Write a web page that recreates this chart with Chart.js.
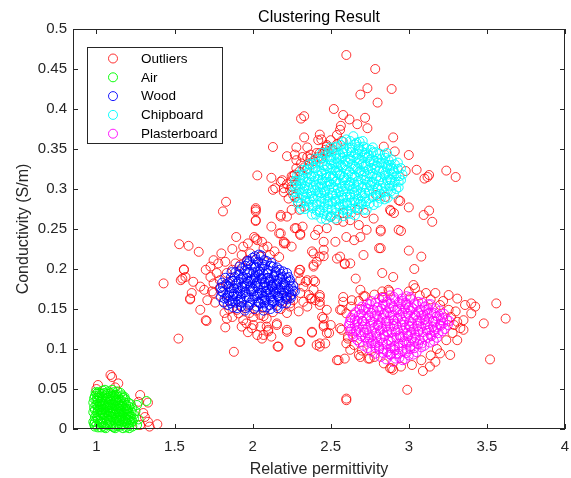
<!DOCTYPE html>
<html>
<head>
<meta charset="utf-8">
<script src="https://cdn.jsdelivr.net/npm/chart.js@4/dist/chart.umd.min.js"></script>
<style>
html, body { margin: 0; padding: 0; background: #fff; }
#caixa { width: 571px; height: 478px; }
</style>
</head>
<body>
<div id="caixa"><canvas id="grafico" width="571" height="478"></canvas></div>
<script>
// nomes e cores das series (mesma ordem da legenda)
var nomes = ['Outliers', 'Air', 'Wood', 'Chipboard', 'Plasterboard'];
var cores = ['rgba(255,0,0,0.8)', 'rgba(0,255,0,0.95)', 'rgba(0,0,255,0.9)', 'rgba(0,255,255,0.95)', 'rgba(255,0,255,0.9)'];

var xTicks = [1, 1.5, 2, 2.5, 3, 3.5, 4];
var xTickLabels = ['1', '1.5', '2', '2.5', '3', '3.5', '4'];
var yTicks = [0, 0.05, 0.1, 0.15, 0.2, 0.25, 0.3, 0.35, 0.4, 0.45, 0.5];
var yTickLabels = ['0', '0.05', '0.1', '0.15', '0.2', '0.25', '0.3', '0.35', '0.4', '0.45', '0.5'];

// [permissividade, condutividade]
var outliers = [
  [1.09,0.0675],[1.10,0.065],[1.01,0.055],[1.00,0.05],[1.14,0.057],[1.12,0.052],[1.28,0.0425],[1.27,0.034],[1.33,0.033],[1.30,0.02],
  [1.33,0.009],[1.28,0.005],[1.34,0.003],[1.39,0.006],[1.31,0.015],
  [1.53,0.231],[1.59,0.229],[1.655,0.2215],[1.895,0.24],[2.01,0.24],[2.03,0.236],[2.095,0.228],[2.20,0.232],[2.25,0.228],[2.305,0.244],
  [1.80,0.2195],[1.825,0.209],[1.75,0.211],[1.78,0.207],[1.73,0.203],[1.70,0.199],[1.56,0.1995],[1.54,0.186],[1.57,0.19],[1.62,0.184],
  [1.665,0.178],[1.69,0.174],[1.61,0.17],[1.60,0.162],[1.71,0.161],[1.75,0.17],[1.43,0.182],[1.665,0.149],[1.70,0.136],[1.825,0.127],
  [1.525,0.113],[1.88,0.0965],[1.87,0.14],[1.91,0.1445],[1.94,0.136],[1.96,0.132],[1.995,0.126],[1.93,0.128],[2.005,0.14],[2.05,0.1425],
  [2.09,0.138],[2.09,0.128],[2.155,0.13],[2.12,0.1155],[2.06,0.113],[2.03,0.1175],[2.165,0.103],[2.22,0.124],[2.295,0.147],[2.305,0.109],
  [2.38,0.1215],[2.41,0.105],[2.35,0.153],[2.40,0.161],[2.39,0.174],[2.39,0.186],[2.34,0.184],[2.305,0.199],[2.39,0.2195],[2.41,0.209],
  [2.26,0.161],[2.24,0.153],[1.835,0.138],[1.90,0.149],[1.93,0.153],[1.965,0.211],[1.93,0.2175],[1.985,0.2195],[2.05,0.2155],[2.11,0.2175],
  [1.92,0.205],[1.94,0.228],[1.89,0.207],[1.87,0.199],[1.835,0.195],[1.845,0.182],[1.79,0.176],[1.815,0.159],[1.79,0.186],[1.75,0.182],
  [1.73,0.19],[1.77,0.195],[1.83,0.284],[1.81,0.272],[2.02,0.274],[2.02,0.26],[2.12,0.253],[2.18,0.2655],[2.22,0.2655],[2.27,0.251],
  [2.18,0.2445],[2.20,0.234],[1.55,0.188],[1.56,0.199],[1.60,0.163],[1.705,0.135],[2.16,0.103],[2.43,0.107],[2.54,0.086],[2.39,0.205],
  [2.455,0.216],[2.54,0.213],[1.98,0.145],[2.02,0.148],[2.07,0.141],[2.13,0.146],[2.18,0.150],[2.22,0.145],[1.85,0.150],[1.82,0.145],
  [1.76,0.158],[1.74,0.172],[1.97,0.121],[2.10,0.122],[2.07,0.226],[2.14,0.222],[2.17,0.215],[1.87,0.225],[1.97,0.232],
  [2.60,0.4675],[2.785,0.45],[2.735,0.426],[2.69,0.418],[2.89,0.425],[2.80,0.408],[2.52,0.40],[2.58,0.3925],[2.62,0.387],[2.72,0.389],
  [2.31,0.388],[2.33,0.391],[2.565,0.379],[2.67,0.381],[2.735,0.376],[2.90,0.3645],[2.43,0.368],[2.33,0.3645],[2.13,0.3525],[2.22,0.341],
  [2.27,0.343],[2.35,0.352],[2.44,0.362],[2.50,0.361],[2.54,0.3675],[2.84,0.353],[2.91,0.347],[3.00,0.3425],[2.03,0.317],[2.12,0.314],
  [2.19,0.311],[2.13,0.299],[2.25,0.303],[2.27,0.29],[2.98,0.3225],[3.05,0.324],[3.12,0.315],[3.13,0.3175],[2.79,0.2925],[2.85,0.29],
  [2.945,0.285],[2.02,0.276],[2.35,0.34],[2.43,0.345],[2.475,0.353],[2.56,0.374],[2.28,0.352],[2.42,0.361],[2.475,0.355],[2.28,0.336],
  [2.32,0.34],[2.37,0.338],[2.41,0.345],[2.465,0.349],[2.26,0.316],[2.18,0.309],[2.145,0.301],[2.24,0.299],[3.10,0.313],[3.24,0.323],
  [3.30,0.315],[3.00,0.277],[2.885,0.2725],[2.905,0.27],[3.095,0.2675],[3.13,0.273],[3.15,0.259],[2.82,0.247],[2.95,0.2475],[2.82,0.226],
  [3.00,0.223],[3.08,0.2155],[3.035,0.20],
  [2.30,0.322],[2.33,0.327],[2.36,0.331],[2.39,0.335],[2.42,0.34],[2.45,0.344],[2.48,0.347],[2.51,0.35],[2.54,0.356],[2.57,0.36],
  [2.27,0.318],[2.25,0.31],[2.22,0.306],[2.35,0.325],[2.44,0.338],[2.37,0.343],[2.31,0.332],[2.28,0.326],[2.20,0.296],[2.23,0.288],
  [2.29,0.284],[2.33,0.278],
  [2.20,0.301],[2.25,0.316],[2.26,0.2925],[2.28,0.305],[2.02,0.272],[2.02,0.261],[2.18,0.2675],[2.25,0.274],[2.30,0.274],[2.28,0.251],
  [2.32,0.253],[2.305,0.2425],[2.17,0.2445],[2.02,0.238],[2.06,0.234],[2.40,0.2425],[2.42,0.249],[2.475,0.251],[2.50,0.265],[2.53,0.234],
  [2.54,0.261],[2.58,0.27],[2.58,0.259],[2.60,0.24],[2.625,0.261],[2.67,0.274],[2.68,0.255],[2.72,0.27],[2.73,0.249],[2.775,0.263],
  [2.82,0.249],[2.81,0.226],[2.71,0.2175],[2.69,0.24],[2.65,0.236],[2.88,0.274],[2.935,0.286],[2.935,0.249],[2.455,0.234],[2.455,0.224],
  [2.43,0.2155],[2.39,0.203],[2.38,0.222],[2.56,0.2155],[2.59,0.207],[2.625,0.207],[2.66,0.188],[2.83,0.195],[2.90,0.19],[2.21,0.232],
  [2.30,0.199],[2.295,0.195],[2.35,0.186],[2.40,0.184],[2.305,0.186],[2.325,0.178],[2.36,0.1675],[2.325,0.159],[2.24,0.157],[2.22,0.165],
  [2.38,0.163],[2.43,0.1675],[2.43,0.159],[2.475,0.149],[2.445,0.14],[2.455,0.13],[2.49,0.12],[2.465,0.107],[2.43,0.103],[2.38,0.1205],
  [2.30,0.109],[2.22,0.1215],[2.155,0.132],[2.10,0.124],[2.07,0.1175],[2.05,0.128],[2.005,0.13],
  [2.58,0.159],[2.635,0.161],[2.71,0.166],[2.56,0.149],[2.60,0.1445],[2.57,0.124],[2.61,0.1155],[2.60,0.107],[2.55,0.086],[2.59,0.088],
  [2.68,0.0925],[2.74,0.088],[2.83,0.165],[2.87,0.174],[2.60,0.036],[2.50,0.13],[2.69,0.174],[2.88,0.076],[2.90,0.074],[2.59,0.206],
  [3.03,0.18],[3.04,0.176],[2.83,0.172],[2.875,0.172],[2.72,0.166],[3.11,0.17],[3.17,0.17],[3.255,0.1675],[3.31,0.163],[3.20,0.155],
  [3.255,0.149],[3.36,0.155],[3.40,0.157],[3.425,0.153],[3.56,0.157],[3.62,0.138],[3.40,0.1445],[3.35,0.136],[3.31,0.134],[3.33,0.126],
  [3.35,0.124],[3.48,0.132],[3.24,0.111],[3.31,0.111],[3.265,0.0925],[3.20,0.0945],[3.17,0.084],[3.135,0.078],[3.09,0.0725],[2.89,0.076],
  [3.52,0.087],[2.99,0.049],[2.60,0.038],[2.69,0.09],[2.75,0.088],[2.58,0.165],[2.57,0.149],[2.56,0.126],[2.61,0.113],[2.625,0.099],
  [2.43,0.165],[2.37,0.163],[2.43,0.155],[2.455,0.138],[2.455,0.128],[2.475,0.12],[2.305,0.17],
  [3.27,0.140],[3.29,0.130],[3.30,0.147],[3.22,0.160],[3.14,0.162],[3.28,0.120],[3.18,0.100],[3.14,0.092],[3.08,0.086],[3.02,0.080],
  [2.95,0.078],[2.84,0.082],[2.78,0.090],[2.70,0.098],[2.65,0.105],[2.63,0.153],[2.68,0.160],[2.78,0.168],[3.00,0.172],[3.07,0.167]
];

var air = [
  [0.99,0.003],[1.01,0.011],[1.03,0.002],[1.04,0.019],[1.06,0.007],[1.07,0.026],[1.09,0.004],[1.10,0.015],[1.12,0.009],[1.13,0.022],
  [1.15,0.003],[1.16,0.013],[1.18,0.006],[1.19,0.018],[1.21,0.004],[0.98,0.021],[1.00,0.030],[1.02,0.024],[1.03,0.036],[1.05,0.031],
  [1.06,0.042],[1.08,0.034],[1.09,0.045],[1.11,0.038],[1.12,0.029],[1.14,0.033],[1.15,0.025],[1.17,0.028],[1.18,0.021],[1.20,0.012],
  [1.22,0.008],[0.99,0.041],[1.01,0.046],[1.04,0.048],[1.07,0.039],[1.10,0.049],[1.13,0.043],[1.16,0.036],[1.19,0.030],[1.21,0.019],
  [1.23,0.026],[1.24,0.013],[1.02,0.006],[1.05,0.014],[1.08,0.012],[1.11,0.002],[1.14,0.016],[1.17,0.001],[1.20,0.007],[0.98,0.009],
  [1.00,0.017],[1.03,0.028],[1.06,0.021],[1.09,0.027],[1.12,0.018],[1.15,0.010],[1.18,0.014],[1.01,0.035],[1.04,0.040],[1.07,0.044],
  [1.10,0.032],[1.13,0.037],[1.16,0.022],[1.19,0.025],[1.22,0.016],[0.99,0.015],[1.02,0.039],[1.05,0.025],[1.08,0.019],[1.11,0.023],
  [1.14,0.006],[1.17,0.009],[1.00,0.005],[1.03,0.013],[1.06,0.034],[1.09,0.010],[1.12,0.041],[1.15,0.030],[1.18,0.033],[1.21,0.028],
  [1.25,0.022],[1.26,0.030],[1.32,0.035],[0.98,0.033],[1.01,0.023],[1.04,0.008],[1.07,0.016],[1.10,0.007],[1.13,0.012],[1.16,0.005],
  [1.19,0.002],[1.23,0.003],[1.02,0.031],[1.05,0.045],[1.08,0.041],[1.11,0.046],[1.14,0.040],[1.00,0.044],[1.06,0.001],[1.12,0.001],
  [1.09,0.036],[1.03,0.020],[1.15,0.019],[1.21,0.011],[1.17,0.039],
  [0.985,0.006],[1.005,0.014],[1.025,0.009],[1.045,0.004],[1.065,0.013],[1.085,0.008],[1.105,0.003],[1.125,0.014],[1.145,0.011],[1.165,0.017],
  [1.185,0.010],[1.205,0.015],[1.225,0.012],[0.985,0.027],[1.005,0.021],[1.025,0.017],[1.045,0.025],[1.065,0.029],[1.085,0.023],[1.105,0.020],
  [1.125,0.025],[1.145,0.021],[1.165,0.031],[1.185,0.026],[1.205,0.022],[1.225,0.021],[0.985,0.038],[1.005,0.039],[1.025,0.034],[1.045,0.036],
  [1.065,0.038],[1.085,0.030],[1.105,0.041],[1.125,0.035],[1.145,0.029],[1.165,0.042],[1.185,0.037],[1.205,0.033],[0.995,0.046],[1.015,0.042],
  [1.035,0.044],[1.055,0.049],[1.075,0.047],[1.095,0.042],[1.115,0.043],[1.135,0.047],[1.155,0.045],[0.99,0.009],[1.01,0.002],[1.03,0.007],
  [1.05,0.002],[1.07,0.005],[1.09,0.016],[1.11,0.011],[1.13,0.004],[1.15,0.015],[1.17,0.012],[1.19,0.008],[1.21,0.001],[0.99,0.024],
  [1.01,0.028],[1.03,0.024],[1.05,0.019],[1.07,0.021],[1.09,0.021],[1.11,0.030],[1.13,0.028],[1.15,0.036],[1.17,0.019],[1.19,0.013],
  [1.00,0.036],[1.02,0.045],[1.04,0.032],[1.06,0.027],[1.08,0.027],[1.10,0.026],[1.12,0.034],[1.14,0.025],[1.16,0.028],[1.18,0.040],
  [1.20,0.025],[1.24,0.018],[1.22,0.031],[1.27,0.012],[1.26,0.005],[1.23,0.009]
];

var wood = [
  [1.80,0.172],[1.82,0.163],[1.83,0.181],[1.84,0.155],[1.85,0.170],[1.86,0.189],[1.87,0.160],[1.88,0.176],[1.89,0.196],[1.90,0.151],
  [1.90,0.166],[1.91,0.184],[1.92,0.172],[1.93,0.201],[1.93,0.158],[1.94,0.190],[1.95,0.178],[1.95,0.148],[1.96,0.165],[1.97,0.207],
  [1.97,0.185],[1.98,0.155],[1.98,0.196],[1.99,0.172],[2.00,0.214],[2.00,0.162],[2.01,0.188],[2.01,0.150],[2.02,0.179],[2.02,0.203],
  [2.03,0.168],[2.04,0.218],[2.04,0.193],[2.05,0.157],[2.05,0.181],[2.06,0.207],[2.06,0.170],[2.07,0.148],[2.07,0.194],[2.08,0.183],
  [2.08,0.161],[2.09,0.210],[2.10,0.174],[2.10,0.198],[2.11,0.155],[2.11,0.186],[2.12,0.166],[2.13,0.203],[2.13,0.178],[2.14,0.192],
  [2.14,0.159],[2.15,0.171],[2.16,0.185],[2.16,0.151],[2.17,0.199],[2.17,0.164],[2.18,0.177],[2.19,0.190],[2.19,0.157],[2.20,0.170],
  [2.21,0.183],[2.22,0.162],[2.22,0.195],[2.23,0.175],[2.24,0.186],[2.25,0.168],[2.26,0.179],[2.27,0.172],[1.81,0.178],[1.84,0.167],
  [1.86,0.176],[1.87,0.185],[1.89,0.158],[1.91,0.193],[1.92,0.162],[1.94,0.170],[1.95,0.198],[1.96,0.182],[1.97,0.153],[1.99,0.187],
  [1.99,0.205],[2.00,0.175],[2.01,0.166],[2.03,0.196],[2.03,0.184],[2.04,0.158],[2.05,0.200],[2.06,0.163],[2.07,0.177],[2.08,0.205],
  [2.09,0.169],[2.09,0.152],[2.10,0.189],[2.12,0.180],[2.12,0.208],[2.13,0.160],[2.15,0.197],[2.15,0.180],[2.17,0.173],[2.18,0.194],
  [2.20,0.181],[2.21,0.163],[2.23,0.190],[2.24,0.166],[2.02,0.212],[1.98,0.210],[1.93,0.178],[1.88,0.169],[1.85,0.160],[2.06,0.188],
  [2.11,0.171],[2.16,0.166],
  [1.875,0.152],[1.925,0.153],[1.955,0.151],[2.025,0.153],[2.065,0.152],[2.115,0.150],[2.155,0.154],
  [1.815,0.158],[1.86,0.157],[1.91,0.159],[1.985,0.158],[2.035,0.159],[2.075,0.157],[2.125,0.158],[2.175,0.159],[2.215,0.157],
  [1.795,0.165],[1.835,0.164],[1.875,0.166],[1.925,0.165],[1.975,0.164],[2.025,0.166],[2.075,0.165],[2.115,0.164],[2.165,0.166],[2.215,0.165],[2.245,0.164],
  [1.81,0.171],[1.865,0.172],[1.905,0.170],[1.955,0.171],[2.005,0.172],[2.045,0.170],[2.085,0.171],[2.135,0.172],[2.185,0.170],[2.235,0.171],[2.26,0.173],
  [1.795,0.177],[1.845,0.178],[1.905,0.176],[1.935,0.177],[1.985,0.178],[2.035,0.176],[2.085,0.177],[2.125,0.178],[2.165,0.176],[2.205,0.177],[2.245,0.178],
  [1.805,0.183],[1.855,0.184],[1.895,0.182],[1.945,0.183],[1.985,0.184],[2.025,0.182],[2.075,0.183],[2.115,0.184],[2.155,0.182],[2.195,0.183],[2.235,0.184],
  [1.825,0.189],[1.885,0.190],[1.925,0.188],[1.965,0.189],[2.015,0.190],[2.055,0.188],[2.095,0.189],[2.135,0.190],[2.175,0.188],[2.215,0.189],
  [1.865,0.196],[1.915,0.197],[1.965,0.195],[2.005,0.196],[2.045,0.197],[2.095,0.195],[2.145,0.196],[2.195,0.197],
  [1.915,0.203],[1.955,0.204],[2.015,0.202],[2.065,0.203],[2.115,0.204],[2.155,0.202],
  [1.965,0.210],[2.035,0.209],[2.075,0.211],[2.015,0.216],[2.055,0.217]
];

var chipboard = [
  [2.60,0.362],[2.645,0.366],[2.685,0.359],
  [2.52,0.352],[2.565,0.355],[2.62,0.351],[2.655,0.356],[2.71,0.353],[2.755,0.349],
  [2.47,0.345],[2.515,0.348],[2.56,0.343],[2.605,0.347],[2.655,0.344],[2.70,0.347],[2.745,0.342],[2.79,0.346],[2.845,0.343],
  [2.42,0.338],[2.465,0.341],[2.505,0.336],[2.555,0.339],[2.595,0.335],[2.645,0.340],[2.685,0.337],[2.735,0.339],[2.775,0.335],[2.825,0.338],[2.87,0.336],
  [2.38,0.331],[2.43,0.334],[2.475,0.329],[2.52,0.332],[2.565,0.330],[2.61,0.333],[2.66,0.328],[2.70,0.331],[2.75,0.334],[2.795,0.329],[2.84,0.332],[2.885,0.330],[2.93,0.333],
  [2.34,0.324],[2.385,0.327],[2.44,0.322],[2.48,0.326],[2.53,0.323],[2.575,0.327],[2.62,0.322],[2.67,0.325],[2.715,0.322],[2.76,0.326],[2.81,0.323],[2.86,0.327],[2.905,0.322],[2.95,0.326],
  [2.30,0.317],[2.35,0.320],[2.395,0.315],[2.445,0.319],[2.495,0.316],[2.54,0.320],[2.585,0.315],[2.635,0.318],[2.68,0.321],[2.73,0.316],[2.77,0.319],[2.82,0.315],[2.87,0.318],[2.92,0.316],
  [2.28,0.310],[2.325,0.313],[2.37,0.308],[2.42,0.312],[2.465,0.309],[2.51,0.313],[2.56,0.308],[2.60,0.311],[2.65,0.307],[2.695,0.312],[2.74,0.309],[2.79,0.313],[2.835,0.308],[2.885,0.311],[2.935,0.309],
  [2.27,0.303],[2.31,0.306],[2.36,0.301],[2.405,0.305],[2.45,0.302],[2.50,0.306],[2.545,0.301],[2.59,0.304],[2.64,0.300],[2.68,0.305],[2.73,0.302],[2.78,0.306],[2.825,0.301],[2.875,0.304],[2.92,0.300],
  [2.26,0.296],[2.30,0.299],[2.35,0.294],[2.40,0.298],[2.44,0.295],[2.49,0.299],[2.535,0.294],[2.58,0.297],[2.625,0.293],[2.67,0.298],[2.72,0.295],[2.77,0.299],[2.815,0.294],[2.865,0.297],[2.905,0.294],
  [2.27,0.289],[2.32,0.292],[2.365,0.287],[2.415,0.291],[2.46,0.288],[2.51,0.292],[2.555,0.287],[2.60,0.290],[2.65,0.286],[2.70,0.291],[2.745,0.288],[2.80,0.291],[2.845,0.287],
  [2.29,0.282],[2.34,0.285],[2.385,0.280],[2.44,0.284],[2.485,0.281],[2.53,0.285],[2.58,0.280],[2.625,0.283],[2.68,0.281],[2.725,0.284],[2.775,0.280],
  [2.31,0.275],[2.36,0.278],[2.41,0.273],[2.455,0.277],[2.505,0.274],[2.555,0.278],[2.605,0.273],[2.655,0.276],[2.71,0.274],
  [2.38,0.268],[2.43,0.271],[2.475,0.267],[2.53,0.270],[2.58,0.266],[2.63,0.269],
  [2.44,0.263],[2.50,0.265],
  [2.40,0.326],[2.50,0.340],[2.58,0.346],[2.68,0.350],[2.72,0.343],[2.62,0.338],[2.54,0.327],[2.47,0.314],[2.33,0.300],[2.38,0.291],
  [2.46,0.296],[2.57,0.292],[2.66,0.293],[2.75,0.305],[2.85,0.320],[2.90,0.325],[2.80,0.333],[2.71,0.328],[2.64,0.314],[2.56,0.318],
  [2.48,0.284],[2.59,0.282],[2.69,0.284],[2.62,0.305],[2.53,0.309],[2.44,0.307],[2.36,0.313],[2.80,0.300],[2.88,0.312],[2.96,0.318],
  [2.58,0.359],[2.625,0.360],[2.665,0.358],[2.705,0.360],
  [2.495,0.352],[2.54,0.353],[2.585,0.351],[2.635,0.352],[2.68,0.353],[2.73,0.351],[2.77,0.352],
  [2.445,0.345],[2.49,0.346],[2.535,0.344],[2.58,0.345],[2.63,0.346],[2.675,0.344],[2.72,0.345],[2.77,0.346],[2.815,0.344],[2.86,0.345],
  [2.40,0.338],[2.445,0.339],[2.49,0.337],[2.535,0.338],[2.575,0.339],[2.625,0.337],[2.665,0.338],[2.71,0.339],[2.755,0.337],[2.80,0.338],[2.85,0.339],[2.89,0.337],
  [2.36,0.331],[2.405,0.332],[2.455,0.330],[2.50,0.331],[2.545,0.332],[2.59,0.330],[2.635,0.331],[2.68,0.332],[2.725,0.330],[2.775,0.331],[2.82,0.332],[2.865,0.330],[2.91,0.331],
  [2.32,0.324],[2.365,0.325],[2.415,0.323],[2.46,0.324],[2.505,0.325],[2.55,0.323],[2.60,0.324],[2.645,0.325],[2.69,0.323],[2.74,0.324],[2.785,0.325],[2.835,0.323],[2.88,0.324],[2.93,0.325],
  [2.285,0.317],[2.325,0.318],[2.375,0.316],[2.42,0.317],[2.47,0.318],[2.515,0.316],[2.56,0.317],[2.61,0.318],[2.655,0.316],[2.705,0.317],[2.75,0.318],[2.795,0.316],[2.845,0.317],[2.895,0.318],[2.94,0.316],
  [2.27,0.310],[2.305,0.311],[2.35,0.309],[2.395,0.310],[2.445,0.311],[2.49,0.309],[2.535,0.310],[2.58,0.311],[2.625,0.309],[2.675,0.310],[2.72,0.311],[2.765,0.309],[2.81,0.310],[2.86,0.311],[2.91,0.309],[2.95,0.311],
  [2.29,0.303],[2.335,0.304],[2.385,0.302],[2.43,0.303],[2.475,0.304],[2.52,0.302],[2.57,0.303],[2.615,0.304],[2.66,0.302],[2.705,0.303],[2.755,0.304],[2.80,0.302],[2.85,0.303],[2.895,0.304],[2.935,0.302],
  [2.28,0.296],[2.325,0.297],[2.375,0.295],[2.42,0.296],[2.465,0.297],[2.51,0.295],[2.555,0.296],[2.60,0.297],[2.65,0.295],[2.695,0.296],[2.745,0.297],[2.79,0.295],[2.84,0.296],[2.885,0.297],
  [2.295,0.289],[2.34,0.290],[2.39,0.288],[2.44,0.289],[2.485,0.290],[2.53,0.288],[2.58,0.289],[2.625,0.290],[2.675,0.288],[2.72,0.289],[2.77,0.290],[2.82,0.288],[2.865,0.289],
  [2.31,0.282],[2.36,0.283],[2.41,0.281],[2.46,0.282],[2.51,0.283],[2.555,0.281],[2.605,0.282],[2.655,0.283],[2.70,0.281],[2.75,0.282],[2.80,0.283],
  [2.335,0.275],[2.385,0.276],[2.43,0.274],[2.48,0.275],[2.53,0.276],[2.58,0.274],[2.63,0.275],[2.68,0.276],[2.73,0.274],
  [2.405,0.268],[2.455,0.269],[2.505,0.267],[2.555,0.268],[2.605,0.269],[2.655,0.267],
  [2.47,0.262],[2.53,0.263]
];

var plasterboard = [
  [2.88,0.167],[2.93,0.170],[2.985,0.166],
  [2.76,0.160],[2.81,0.163],[2.86,0.159],[2.91,0.162],[2.96,0.160],[3.01,0.163],[3.06,0.159],
  [2.70,0.153],[2.75,0.156],[2.80,0.152],[2.85,0.155],[2.90,0.153],[2.95,0.156],[3.00,0.152],[3.05,0.155],[3.10,0.153],[3.14,0.156],
  [2.66,0.146],[2.71,0.149],[2.76,0.145],[2.81,0.148],[2.86,0.146],[2.91,0.149],[2.96,0.145],[3.01,0.148],[3.06,0.146],[3.11,0.149],[3.16,0.145],[3.20,0.148],
  [2.63,0.139],[2.68,0.142],[2.73,0.138],[2.78,0.141],[2.83,0.139],[2.88,0.142],[2.93,0.138],[2.98,0.141],[3.03,0.139],[3.08,0.142],[3.13,0.138],[3.18,0.141],[3.22,0.139],
  [2.62,0.132],[2.67,0.135],[2.72,0.131],[2.77,0.134],[2.82,0.132],[2.87,0.135],[2.92,0.131],[2.97,0.134],[3.02,0.132],[3.07,0.135],[3.12,0.131],[3.17,0.134],[3.22,0.132],[3.26,0.135],
  [2.63,0.125],[2.68,0.128],[2.73,0.124],[2.78,0.127],[2.83,0.125],[2.88,0.128],[2.93,0.124],[2.98,0.127],[3.03,0.125],[3.08,0.128],[3.13,0.124],[3.18,0.127],[3.23,0.125],
  [2.64,0.118],[2.69,0.121],[2.74,0.117],[2.79,0.120],[2.84,0.118],[2.89,0.121],[2.94,0.117],[2.99,0.120],[3.04,0.118],[3.09,0.121],[3.14,0.117],[3.19,0.120],
  [2.67,0.111],[2.72,0.114],[2.77,0.110],[2.82,0.113],[2.87,0.111],[2.92,0.114],[2.97,0.110],[3.02,0.113],[3.07,0.111],[3.12,0.114],[3.16,0.110],
  [2.71,0.104],[2.76,0.107],[2.81,0.103],[2.86,0.106],[2.91,0.104],[2.96,0.107],[3.01,0.103],[3.06,0.106],[3.10,0.104],
  [2.76,0.097],[2.81,0.100],[2.86,0.096],[2.91,0.099],[2.96,0.097],[3.01,0.100],[3.05,0.096],
  [2.82,0.090],[2.88,0.093],[2.94,0.089],[3.00,0.092],
  [2.90,0.084],[2.96,0.086],
  [2.74,0.150],[2.84,0.143],[2.94,0.150],[3.04,0.143],[3.12,0.144],[2.70,0.135],[2.80,0.129],[2.90,0.136],[3.00,0.129],[3.10,0.136],
  [3.20,0.130],[2.66,0.122],[2.76,0.115],[2.86,0.122],[2.96,0.115],[3.06,0.122],[3.16,0.123],[2.80,0.108],[2.90,0.101],[3.00,0.108],
  [2.84,0.164],[2.98,0.158],[2.92,0.094],
  [2.835,0.164],[2.905,0.165],[2.955,0.163],[3.01,0.165],
  [2.735,0.157],[2.785,0.158],[2.835,0.156],[2.885,0.157],[2.935,0.158],[2.985,0.156],[3.035,0.157],[3.085,0.158],[3.125,0.156],
  [2.685,0.150],[2.725,0.151],[2.775,0.149],[2.825,0.150],[2.875,0.151],[2.925,0.149],[2.975,0.150],[3.025,0.151],[3.075,0.149],[3.125,0.150],[3.17,0.151],
  [2.645,0.143],[2.695,0.144],[2.745,0.142],[2.795,0.143],[2.845,0.144],[2.895,0.142],[2.945,0.143],[2.995,0.144],[3.045,0.142],[3.095,0.143],[3.145,0.144],[3.195,0.142],[3.225,0.144],
  [2.625,0.136],[2.655,0.137],[2.705,0.135],[2.755,0.136],[2.805,0.137],[2.855,0.135],[2.905,0.136],[2.955,0.137],[3.005,0.135],[3.055,0.136],[3.105,0.137],[3.155,0.135],[3.205,0.136],[3.245,0.137],
  [2.615,0.129],[2.655,0.130],[2.705,0.128],[2.755,0.129],[2.805,0.130],[2.855,0.128],[2.905,0.129],[2.955,0.130],[3.005,0.128],[3.055,0.129],[3.105,0.130],[3.155,0.128],[3.205,0.129],[3.25,0.130],
  [2.625,0.122],[2.665,0.123],[2.715,0.121],[2.765,0.122],[2.815,0.123],[2.865,0.121],[2.915,0.122],[2.965,0.123],[3.015,0.121],[3.065,0.122],[3.115,0.123],[3.165,0.121],[3.215,0.122],
  [2.645,0.115],[2.695,0.116],[2.745,0.114],[2.795,0.115],[2.845,0.116],[2.895,0.114],[2.945,0.115],[2.995,0.116],[3.045,0.114],[3.095,0.115],[3.145,0.116],[3.18,0.114],
  [2.685,0.108],[2.735,0.109],[2.785,0.107],[2.835,0.108],[2.885,0.109],[2.935,0.107],[2.985,0.108],[3.035,0.109],[3.085,0.107],[3.135,0.108],
  [2.735,0.101],[2.785,0.102],[2.835,0.100],[2.885,0.101],[2.935,0.102],[2.985,0.100],[3.035,0.101],[3.08,0.102],
  [2.785,0.094],[2.835,0.095],[2.885,0.093],[2.935,0.094],[2.985,0.095],[3.03,0.093],
  [2.855,0.087],[2.915,0.088],[2.975,0.087]
];

var series = [outliers, air, wood, chipboard, plasterboard];

var fonte = "'Liberation Sans', Arial, sans-serif";
var corEixo = '#262626';

function pontos(lista) {
  return lista.map(function (p) { return { x: p[0], y: p[1] }; });
}

// moldura, ticks para dentro, titulos e legenda no estilo do matlab
var moldura = {
  id: 'moldura',
  afterDraw: function (chart) {
    var ctx = chart.ctx, a = chart.chartArea;
    var sx = chart.scales.x, sy = chart.scales.y;
    ctx.save();
    ctx.strokeStyle = corEixo;
    ctx.lineWidth = 1;
    ctx.strokeRect(a.left + 0.5, a.top + 0.5, a.right - a.left - 1, a.bottom - a.top - 1);
    ctx.beginPath();
    xTicks.forEach(function (v) {
      var px = Math.round(sx.getPixelForValue(v)) + 0.5;
      ctx.moveTo(px, a.bottom); ctx.lineTo(px, a.bottom - 5);
      ctx.moveTo(px, a.top); ctx.lineTo(px, a.top + 5);
    });
    yTicks.forEach(function (v) {
      var py = Math.round(sy.getPixelForValue(v)) + 0.5;
      ctx.moveTo(a.left, py); ctx.lineTo(a.left + 5, py);
      ctx.moveTo(a.right, py); ctx.lineTo(a.right - 5, py);
    });
    ctx.stroke();

    // titulo e rotulos
    var meio = (a.left + a.right) / 2;
    ctx.fillStyle = '#000';
    ctx.font = '16px ' + fonte;
    ctx.textAlign = 'center';
    ctx.textBaseline = 'alphabetic';
    ctx.fillText('Clustering Result', meio, 22);
    ctx.fillStyle = corEixo;
    ctx.fillText('Relative permittivity', meio, 474);
    ctx.save();
    ctx.translate(28, (a.top + a.bottom) / 2);
    ctx.rotate(-Math.PI / 2);
    ctx.fillText('Conductivity (S/m)', 0, 0);
    ctx.restore();

    // legenda
    ctx.fillStyle = '#fff';
    ctx.fillRect(87, 47, 135, 96);
    ctx.strokeStyle = corEixo;
    ctx.strokeRect(87.5, 47.5, 135, 96);
    ctx.font = '13.5px ' + fonte;
    ctx.textAlign = 'left';
    ctx.textBaseline = 'middle';
    nomes.forEach(function (n, i) {
      var y = 58.5 + i * 18.8;
      ctx.beginPath();
      ctx.strokeStyle = cores[i];
      ctx.arc(113, y, 4.5, 0, Math.PI * 2);
      ctx.stroke();
      ctx.fillStyle = '#000';
      ctx.fillText(n, 141, y + 0.5);
    });
    ctx.restore();
  }
};

var datasets = series.map(function (s, i) {
  return {
    label: nomes[i],
    data: pontos(s),
    borderColor: cores[i],
    backgroundColor: 'rgba(0,0,0,0)',
    borderWidth: 1,
    pointRadius: 4.5,
    pointHoverRadius: 4.5,
    clip: false,
    order: i == 0 ? 1 : 0
  };
});

var grafico = new Chart(document.getElementById('grafico').getContext('2d'), {
  type: 'scatter',
  data: { datasets: datasets },
  options: {
    responsive: false,
    animation: false,
    events: [],
    layout: { padding: { top: 29, right: 6, left: 0, bottom: 0 } },
    plugins: { legend: { display: false }, title: { display: false }, tooltip: { enabled: false } },
    scales: {
      x: {
        type: 'linear', min: 0.85, max: 4,
        grid: { display: false, drawTicks: false },
        border: { display: false },
        afterBuildTicks: function (ax) { ax.ticks = xTicks.map(function (v) { return { value: v }; }); },
        afterFit: function (ax) { ax.height = 49; ax.paddingLeft = 0; ax.paddingRight = 0; },
        ticks: {
          padding: 9, color: corEixo, font: { family: fonte, size: 15 },
          maxRotation: 0, autoSkip: false,
          callback: function (v, i) { return xTickLabels[i]; }
        }
      },
      y: {
        type: 'linear', min: 0, max: 0.5,
        grid: { display: false, drawTicks: false },
        border: { display: false },
        afterBuildTicks: function (ax) { ax.ticks = yTicks.map(function (v) { return { value: v }; }); },
        afterFit: function (ax) { ax.width = 73; },
        ticks: {
          padding: 6, color: corEixo, font: { family: fonte, size: 15 },
          autoSkip: false,
          callback: function (v, i) { return yTickLabels[i]; }
        }
      }
    }
  },
  plugins: [moldura]
});
</script>
</body>
</html>
